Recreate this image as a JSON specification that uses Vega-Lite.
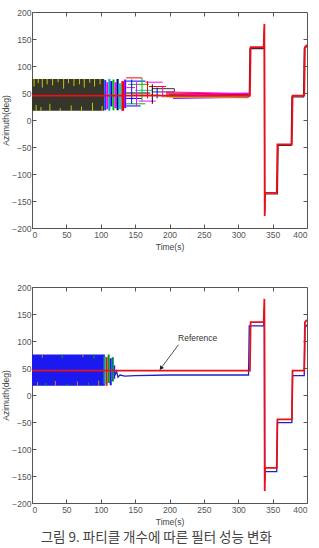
{
  "$schema": "https://vega.github.io/schema/vega-lite/v6.json",
  "padding": {"left": 1, "top": 7, "right": 0, "bottom": 0},
  "background": "white",
  "title": {"text": "그림 9. 파티클 개수에 따른 필터 성능 변화", "orient": "bottom", "anchor": "middle", "font": "Noto Sans CJK KR", "fontSize": 13.5, "fontWeight": "normal", "color": "#444", "offset": 4},
  "bounds": "flush",
  "spacing": 59,
  "config": {
    "view": {"stroke": "#555", "strokeWidth": 1},
    "axis": {"labelFont": "Liberation Sans", "labelFontSize": 8.5, "labelColor": "#555", "titleFont": "Liberation Sans", "titleFontSize": 8.5, "titleFontWeight": "normal", "titleColor": "#444", "tickColor": "#555", "domain": false, "grid": false}
  },
  "datasets": {
    "truth": [
      {"i": 0, "t": 0, "v": 45}, {"i": 1, "t": 317, "v": 45}, {"i": 2, "t": 318, "v": 135}, {"i": 3, "t": 337, "v": 135},
      {"i": 4, "t": 338, "v": 178}, {"i": 5, "t": 338.5, "v": -178}, {"i": 6, "t": 339, "v": -135}, {"i": 7, "t": 356, "v": -135},
      {"i": 8, "t": 357, "v": -45}, {"i": 9, "t": 378, "v": -45}, {"i": 10, "t": 379, "v": 45}, {"i": 11, "t": 396, "v": 45},
      {"i": 12, "t": 397, "v": 135}, {"i": 13, "t": 400, "v": 139}
    ],
    "p1": [
      {"t": 0, "t2": 105, "lo": 17, "hi": 76, "c": "#35352c"},
      {"t": 105, "t2": 108, "lo": 18, "hi": 74, "c": "#2040ff"},
      {"t": 108, "t2": 111, "lo": 20, "hi": 70, "c": "#ff00ff"},
      {"t": 111, "t2": 114, "lo": 17, "hi": 76, "c": "#00b0b0"},
      {"t": 114, "t2": 117, "lo": 25, "hi": 72, "c": "#0000ff"},
      {"t": 117, "t2": 120, "lo": 18, "hi": 75, "c": "#00c000"},
      {"t": 120, "t2": 123, "lo": 22, "hi": 70, "c": "#ff00ff"},
      {"t": 123, "t2": 126, "lo": 18, "hi": 76, "c": "#000080"},
      {"t": 126, "t2": 130, "lo": 20, "hi": 68, "c": "#00d0d0"},
      {"t": 130, "t2": 134, "lo": 17, "hi": 72, "c": "#ff0000"},
      {"t": 134, "t2": 137, "lo": 22, "hi": 75, "c": "#8000ff"}
    ],
    "seg1": [
      {"t": 3, "t2": 3, "v": 62, "v2": 76, "c": "#c8c800"}, {"t": 9, "t2": 9, "v": 68, "v2": 76, "c": "#c8c800"},
      {"t": 15, "t2": 15, "v": 60, "v2": 76, "c": "#c8c800"}, {"t": 22, "t2": 22, "v": 66, "v2": 76, "c": "#c8c800"},
      {"t": 30, "t2": 30, "v": 64, "v2": 76, "c": "#c8c800"}, {"t": 38, "t2": 38, "v": 70, "v2": 76, "c": "#c8c800"},
      {"t": 46, "t2": 46, "v": 58, "v2": 76, "c": "#c8c800"}, {"t": 53, "t2": 53, "v": 68, "v2": 76, "c": "#c8c800"},
      {"t": 61, "t2": 61, "v": 63, "v2": 76, "c": "#c8c800"}, {"t": 69, "t2": 69, "v": 66, "v2": 76, "c": "#c8c800"},
      {"t": 76, "t2": 76, "v": 60, "v2": 76, "c": "#c8c800"}, {"t": 84, "t2": 84, "v": 69, "v2": 76, "c": "#c8c800"},
      {"t": 91, "t2": 91, "v": 62, "v2": 76, "c": "#c8c800"}, {"t": 99, "t2": 99, "v": 66, "v2": 76, "c": "#c8c800"},
      {"t": 6, "t2": 6, "v": 17, "v2": 28, "c": "#c8c800"}, {"t": 13, "t2": 13, "v": 17, "v2": 24, "c": "#c8c800"},
      {"t": 26, "t2": 26, "v": 17, "v2": 30, "c": "#c8c800"}, {"t": 41, "t2": 41, "v": 17, "v2": 22, "c": "#c8c800"},
      {"t": 57, "t2": 57, "v": 17, "v2": 27, "c": "#c8c800"}, {"t": 72, "t2": 72, "v": 17, "v2": 25, "c": "#c8c800"},
      {"t": 88, "t2": 88, "v": 17, "v2": 32, "c": "#c8c800"}, {"t": 102, "t2": 102, "v": 17, "v2": 26, "c": "#c8c800"},
      {"t": 137, "t2": 160, "v": 78, "v2": 78, "c": "#ff0000"}, {"t": 137, "t2": 165, "v": 72, "v2": 72, "c": "#0000ff"},
      {"t": 140, "t2": 170, "v": 66, "v2": 66, "c": "#00c000"}, {"t": 137, "t2": 150, "v": 60, "v2": 60, "c": "#ff00ff"},
      {"t": 150, "t2": 175, "v": 55, "v2": 55, "c": "#00c0c0"}, {"t": 137, "t2": 172, "v": 50, "v2": 50, "c": "#000000"},
      {"t": 145, "t2": 185, "v": 46, "v2": 46, "c": "#ff0000"}, {"t": 137, "t2": 160, "v": 40, "v2": 40, "c": "#0000ff"},
      {"t": 155, "t2": 180, "v": 35, "v2": 35, "c": "#ff00ff"}, {"t": 137, "t2": 165, "v": 30, "v2": 30, "c": "#00c000"},
      {"t": 137, "t2": 158, "v": 26, "v2": 26, "c": "#0000ff"}, {"t": 165, "t2": 190, "v": 70, "v2": 70, "c": "#ff00ff"},
      {"t": 170, "t2": 195, "v": 62, "v2": 62, "c": "#ff0000"}, {"t": 175, "t2": 207, "v": 58, "v2": 58, "c": "#333333"},
      {"t": 175, "t2": 207, "v": 52, "v2": 52, "c": "#333333"},
      {"t": 145, "t2": 145, "v": 30, "v2": 75, "c": "#0000ff"}, {"t": 152, "t2": 152, "v": 26, "v2": 70, "c": "#ff00ff"},
      {"t": 160, "t2": 160, "v": 35, "v2": 78, "c": "#00c000"}, {"t": 168, "t2": 168, "v": 40, "v2": 72, "c": "#ff0000"},
      {"t": 175, "t2": 175, "v": 30, "v2": 66, "c": "#000000"}, {"t": 182, "t2": 182, "v": 40, "v2": 60, "c": "#0000ff"},
      {"t": 190, "t2": 190, "v": 42, "v2": 62, "c": "#ff00ff"}, {"t": 207, "t2": 207, "v": 52, "v2": 58, "c": "#333333"},
      {"t": 195, "t2": 315, "v": 52, "v2": 49, "c": "#ff00ff"}, {"t": 195, "t2": 315, "v": 50, "v2": 48, "c": "#ff0000"},
      {"t": 200, "t2": 315, "v": 47, "v2": 46, "c": "#00c000"}, {"t": 195, "t2": 315, "v": 44, "v2": 44, "c": "#0000ff"},
      {"t": 200, "t2": 315, "v": 42, "v2": 43, "c": "#d0d000"}, {"t": 205, "t2": 315, "v": 40, "v2": 42, "c": "#8000ff"},
      {"t": 195, "t2": 315, "v": 48, "v2": 47, "c": "#c00060"}, {"t": 210, "t2": 315, "v": 46, "v2": 50, "c": "#ff00ff"},
      {"t": 200, "t2": 315, "v": 45, "v2": 45, "c": "#00c0c0"}, {"t": 190, "t2": 315, "v": 43, "v2": 41, "c": "#ff8000"}
    ],
    "e1": [
      {"i": 0, "t": 315, "v": 44}, {"i": 1, "t": 316, "v": 44}, {"i": 2, "t": 317, "v": 132}, {"i": 3, "t": 337, "v": 132},
      {"i": 4, "t": 338, "v": 170}, {"i": 5, "t": 338.5, "v": -170}, {"i": 6, "t": 339, "v": -137}, {"i": 7, "t": 357, "v": -137},
      {"i": 8, "t": 358, "v": -47}, {"i": 9, "t": 377, "v": -47}, {"i": 10, "t": 378, "v": 43}, {"i": 11, "t": 395, "v": 43},
      {"i": 12, "t": 396, "v": 133}, {"i": 13, "t": 400, "v": 136}
    ],
    "p2": [
      {"t": 0, "t2": 106, "lo": 17, "hi": 75, "c": "#1a1af0"},
      {"t": 104, "t2": 107, "lo": 20, "hi": 72, "c": "#00a0a0"},
      {"t": 107, "t2": 110, "lo": 17, "hi": 70, "c": "#d02020"},
      {"t": 110, "t2": 113, "lo": 22, "hi": 75, "c": "#00a000"},
      {"t": 113, "t2": 116, "lo": 18, "hi": 68, "c": "#1a1af0"},
      {"t": 116, "t2": 119, "lo": 25, "hi": 70, "c": "#008060"},
      {"t": 119, "t2": 121, "lo": 30, "hi": 55, "c": "#1a1af0"}
    ],
    "seg2": [
      {"t": 8, "t2": 8, "v": 17, "v2": 24, "c": "#e08000"}, {"t": 20, "t2": 20, "v": 17, "v2": 22, "c": "#00a000"},
      {"t": 34, "t2": 34, "v": 17, "v2": 26, "c": "#e08000"}, {"t": 51, "t2": 51, "v": 17, "v2": 21, "c": "#00a000"},
      {"t": 66, "t2": 66, "v": 17, "v2": 25, "c": "#e08000"}, {"t": 82, "t2": 82, "v": 17, "v2": 23, "c": "#00a000"},
      {"t": 97, "t2": 97, "v": 17, "v2": 27, "c": "#e08000"}, {"t": 15, "t2": 15, "v": 69, "v2": 75, "c": "#e08000"},
      {"t": 44, "t2": 44, "v": 68, "v2": 75, "c": "#00a000"}, {"t": 74, "t2": 74, "v": 70, "v2": 75, "c": "#e08000"},
      {"t": 90, "t2": 90, "v": 67, "v2": 75, "c": "#00a000"}
    ],
    "e2": [
      {"i": 0, "t": 119, "v": 46}, {"i": 1, "t": 121, "v": 38}, {"i": 2, "t": 123, "v": 44}, {"i": 3, "t": 125, "v": 33},
      {"i": 4, "t": 128, "v": 37}, {"i": 5, "t": 135, "v": 35}, {"i": 6, "t": 150, "v": 36}, {"i": 7, "t": 200, "v": 37},
      {"i": 8, "t": 250, "v": 37}, {"i": 9, "t": 315, "v": 37}, {"i": 10, "t": 316, "v": 128}, {"i": 11, "t": 337, "v": 128},
      {"i": 12, "t": 338, "v": 160}, {"i": 13, "t": 338.5, "v": -160}, {"i": 14, "t": 339, "v": -142}, {"i": 15, "t": 356, "v": -142},
      {"i": 16, "t": 357, "v": -51}, {"i": 17, "t": 378, "v": -51}, {"i": 18, "t": 379, "v": 36}, {"i": 19, "t": 396, "v": 36},
      {"i": 20, "t": 397, "v": 125}, {"i": 21, "t": 400, "v": 130}
    ],
    "note": [
      {"t": 241, "v": 105, "label": "Reference", "t0": 213, "v0": 93, "t1": 189, "v1": 52, "tt": 187.5, "vt": 49.5}
    ]
  },
  "vconcat": [
    {
      "width": 275, "height": 216,
      "layer": [
        {"data": {"name": "p1"}, "mark": {"type": "rect"},
         "encoding": {
           "x": {"field": "t", "type": "quantitative", "scale": {"domain": [0, 400], "nice": false, "zero": false}, "axis": {"orient": "bottom", "values": [0, 50, 100, 150, 200, 250, 300, 350, 400], "tickSize": -4, "labelPadding": 6, "title": "Time(s)", "titlePadding": 4}},
           "x2": {"field": "t2"},
           "y": {"field": "lo", "type": "quantitative", "scale": {"domain": [-200, 200], "nice": false, "zero": false}, "axis": {"orient": "left", "values": [-200, -150, -100, -50, 0, 50, 100, 150, 200], "tickSize": -4, "labelPadding": 5, "title": "Azimuth(deg)", "titlePadding": 1}},
           "y2": {"field": "hi"},
           "color": {"field": "c", "type": "nominal", "scale": null}
         }},
        {"data": {"name": "seg1"}, "mark": {"type": "rule", "strokeWidth": 1},
         "encoding": {
           "x": {"field": "t", "type": "quantitative", "axis": null}, "x2": {"field": "t2"},
           "y": {"field": "v", "type": "quantitative", "axis": null}, "y2": {"field": "v2"},
           "color": {"field": "c", "type": "nominal", "scale": null}
         }},
        {"data": {"name": "e1"}, "mark": {"type": "line", "color": "#5a1a2a", "strokeWidth": 1.2},
         "encoding": {
           "x": {"field": "t", "type": "quantitative", "axis": null},
           "y": {"field": "v", "type": "quantitative", "axis": null},
           "order": {"field": "i", "type": "quantitative"}
         }},
        {"data": {"name": "truth"}, "mark": {"type": "line", "color": "#e8101a", "strokeWidth": 1.8},
         "encoding": {
           "x": {"field": "t", "type": "quantitative", "axis": {"orient": "top", "values": [50, 100, 150, 200, 250, 300, 350], "tickSize": -4, "labels": false, "title": null}},
           "y": {"field": "v", "type": "quantitative", "axis": {"orient": "right", "values": [-150, -100, -50, 0, 50, 100, 150], "tickSize": -4, "labels": false, "title": null}},
           "order": {"field": "i", "type": "quantitative"}
         }}
      ],
      "resolve": {"axis": {"x": "independent", "y": "independent"}}
    },
    {
      "width": 275, "height": 216,
      "layer": [
        {"data": {"name": "p2"}, "mark": {"type": "rect"},
         "encoding": {
           "x": {"field": "t", "type": "quantitative", "scale": {"domain": [0, 400], "nice": false, "zero": false}, "axis": {"orient": "bottom", "values": [0, 50, 100, 150, 200, 250, 300, 350, 400], "tickSize": -4, "labelPadding": 6, "title": "Time(s)", "titlePadding": 4}},
           "x2": {"field": "t2"},
           "y": {"field": "lo", "type": "quantitative", "scale": {"domain": [-200, 200], "nice": false, "zero": false}, "axis": {"orient": "left", "values": [-200, -150, -100, -50, 0, 50, 100, 150, 200], "tickSize": -4, "labelPadding": 5, "title": "Azimuth(deg)", "titlePadding": 1}},
           "y2": {"field": "hi"},
           "color": {"field": "c", "type": "nominal", "scale": null}
         }},
        {"data": {"name": "seg2"}, "mark": {"type": "rule", "strokeWidth": 1},
         "encoding": {
           "x": {"field": "t", "type": "quantitative", "axis": null}, "x2": {"field": "t2"},
           "y": {"field": "v", "type": "quantitative", "axis": null}, "y2": {"field": "v2"},
           "color": {"field": "c", "type": "nominal", "scale": null}
         }},
        {"data": {"name": "e2"}, "mark": {"type": "line", "color": "#2020c8", "strokeWidth": 1.3},
         "encoding": {
           "x": {"field": "t", "type": "quantitative", "axis": null},
           "y": {"field": "v", "type": "quantitative", "axis": null},
           "order": {"field": "i", "type": "quantitative"}
         }},
        {"data": {"name": "truth"}, "mark": {"type": "line", "color": "#e8101a", "strokeWidth": 1.8},
         "encoding": {
           "x": {"field": "t", "type": "quantitative", "axis": {"orient": "top", "values": [50, 100, 150, 200, 250, 300, 350], "tickSize": -4, "labels": false, "title": null}},
           "y": {"field": "v", "type": "quantitative", "axis": {"orient": "right", "values": [-150, -100, -50, 0, 50, 100, 150], "tickSize": -4, "labels": false, "title": null}},
           "order": {"field": "i", "type": "quantitative"}
         }},
        {"data": {"name": "note"}, "mark": {"type": "rule", "color": "#222", "strokeWidth": 0.8},
         "encoding": {
           "x": {"field": "t0", "type": "quantitative", "axis": null}, "x2": {"field": "t1"},
           "y": {"field": "v0", "type": "quantitative", "axis": null}, "y2": {"field": "v1"}
         }},
        {"data": {"name": "note"}, "mark": {"type": "point", "shape": "triangle-up", "filled": true, "color": "#222", "size": 22, "angle": 216, "opacity": 1},
         "encoding": {
           "x": {"field": "tt", "type": "quantitative", "axis": null},
           "y": {"field": "vt", "type": "quantitative", "axis": null}
         }},
        {"data": {"name": "note"}, "mark": {"type": "text", "font": "Liberation Sans", "fontSize": 8.5, "color": "#333"},
         "encoding": {
           "x": {"field": "t", "type": "quantitative", "axis": null},
           "y": {"field": "v", "type": "quantitative", "axis": null},
           "text": {"field": "label"}
         }}
      ],
      "resolve": {"axis": {"x": "independent", "y": "independent"}}
    }
  ]
}
